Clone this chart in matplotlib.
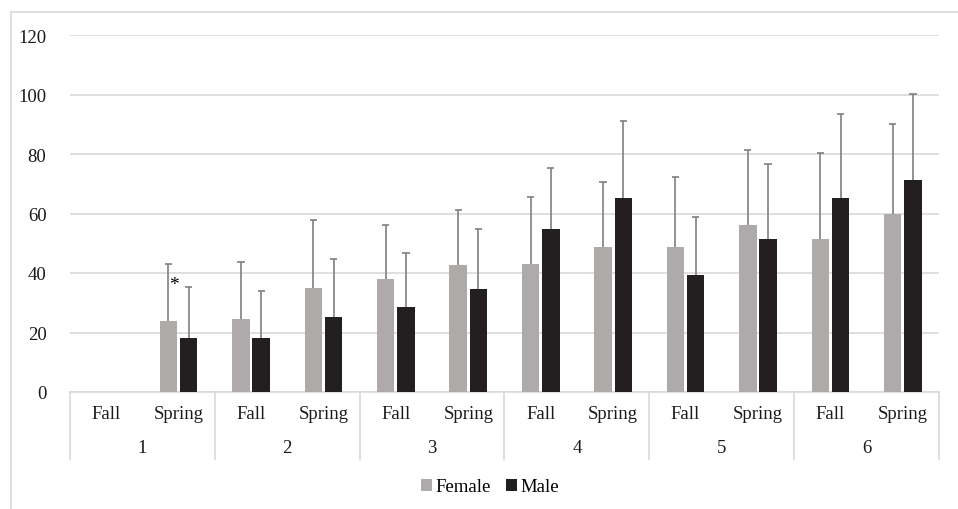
import numpy as np
import matplotlib.pyplot as plt
from matplotlib.patches import Rectangle
from matplotlib.lines import Line2D

grades = ['1', '2', '3', '4', '5', '6']
terms = ['Fall', 'Spring']

# mean scores per grade/term (Fall, Spring, Fall, Spring, ...)
female_mean = [np.nan, 23.9, 24.6, 35.1, 38.1, 42.7, 42.9, 48.8, 48.9, 56.2, 51.5, 59.9]
male_mean = [np.nan, 18.0, 18.3, 25.1, 28.7, 34.5, 54.7, 65.2, 39.4, 51.5, 65.1, 71.3]
# upper end of the error bars
female_top = [np.nan, 43.1, 43.8, 57.7, 56.0, 61.2, 65.5, 70.7, 72.4, 81.5, 80.2, 90.0]
male_top = [np.nan, 35.2, 33.9, 44.6, 46.7, 54.8, 75.2, 91.2, 58.8, 76.7, 93.5, 100.1]

plt.rcParams['font.family'] = ['Liberation Serif', 'DejaVu Serif']
plt.rcParams['font.size'] = 13.5

W, H = 958, 510
fig = plt.figure(figsize=(W / 100, H / 100), dpi=100)

# outer chart border
fig.add_artist(Rectangle((11 / W, -0.1), 1.2, (H - 12.5) / H + 0.1, transform=fig.transFigure,
                         fill=False, edgecolor='#d9d9d9', linewidth=1.2))

x0, x1, y0, y1 = 70, 939, 393, 36
ax = fig.add_axes([x0 / W, (H - y0) / H, (x1 - x0) / W, (y0 - y1) / H])

n = len(female_mean)
x = np.arange(n)
bw = 0.24
off = 0.14
cap = 0.05

ax.bar(x - off, female_mean, bw, color='#aeaaaa', label='Female', zorder=3)
ax.bar(x + off, male_mean, bw, color='#231f20', label='Male', zorder=3)

# upper-only error bars, no cap at the bar top
for xs, lo, hi in [(x - off, female_mean, female_top), (x + off, male_mean, male_top)]:
    ax.vlines(xs, lo, hi, color='#7f7f7f', linewidth=1.2, zorder=4)
    ax.hlines(hi, xs - cap, xs + cap, color='#7f7f7f', linewidth=1.2, zorder=4)

ax.text(1 - 0.06, 36, '*', ha='center', va='center', fontsize=14)

ax.set_xlim(-0.5, n - 0.5)
ax.set_ylim(0, 120)
ax.set_yticks(range(0, 121, 20))
ax.yaxis.grid(True, color='#d9d9d9', linewidth=1.2, zorder=0)
ax.set_axisbelow(True)
for s in ['top', 'right', 'left']:
    ax.spines[s].set_visible(False)
ax.spines['bottom'].set_color('#d9d9d9')
ax.spines['bottom'].set_linewidth(1.2)
ax.tick_params(axis='y', length=0, pad=17, labelsize=13.5, colors='#1a1a1a')
ax.set_xticks([])

# two-level category axis
trans = ax.get_xaxis_transform()
sep_len = (460 - y0) / (y0 - y1)
for k in range(len(grades) + 1):
    ax.add_line(Line2D([2 * k - 0.5, 2 * k - 0.5], [0, -sep_len], transform=trans,
                       color='#d9d9d9', linewidth=1.2, clip_on=False))
for i in range(n):
    ax.text(x[i], -(415 - y0) / (y0 - y1), terms[i % 2], transform=trans,
            ha='center', va='center', color='#1a1a1a')
for g, lab in enumerate(grades):
    ax.text(2 * g + 0.5, -(449 - y0) / (y0 - y1), lab, transform=trans,
            ha='center', va='center', color='#1a1a1a')

fig.legend(loc='center', bbox_to_anchor=(490 / W, (H - 488) / H), ncol=2, frameon=False,
           handlelength=0.6, handleheight=0.6, handletextpad=0.2, columnspacing=0.8,
           fontsize=13.5)

fig.savefig('out.png', dpi=100)
